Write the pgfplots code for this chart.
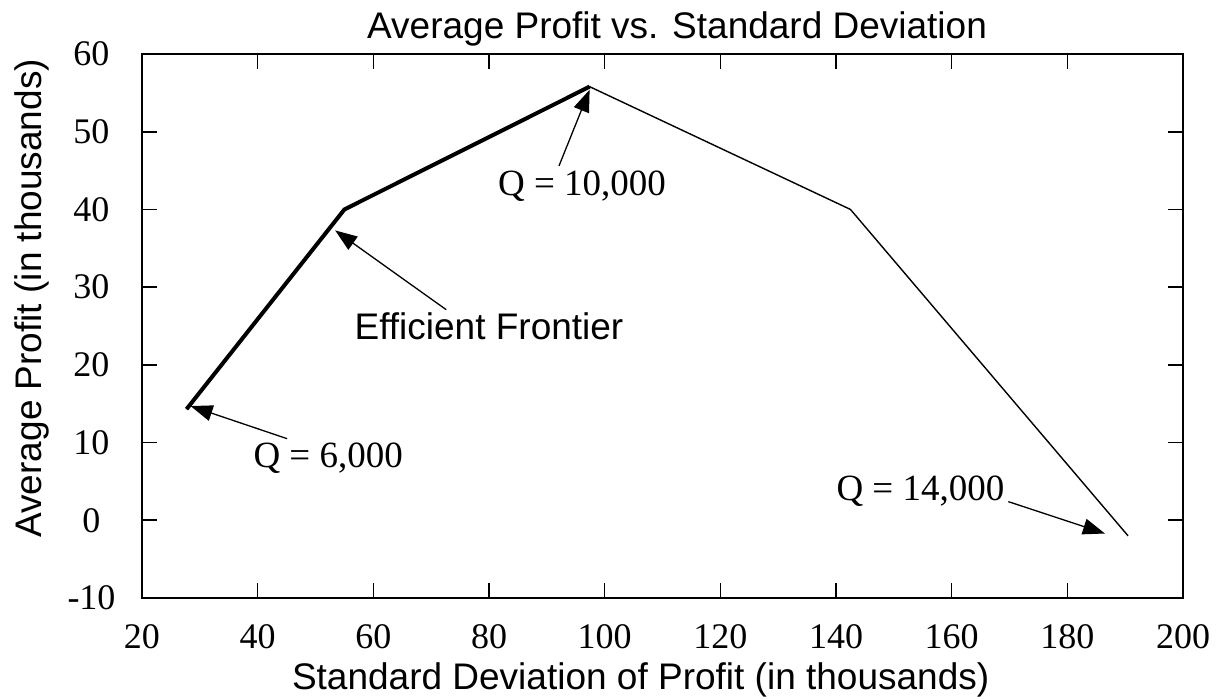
\documentclass[border=0pt]{standalone}
\usepackage{fontspec}
\setmainfont{Liberation Serif}
\setsansfont{Liberation Sans}
\usepackage{pgfplots}
\pgfplotsset{compat=1.18}
\usetikzlibrary{arrows.meta}

\begin{document}
\begin{tikzpicture}
\useasboundingbox (-71pt,-50pt) rectangle (539pt,299pt);
\begin{axis}[
  at={(0pt,0pt)}, anchor=south west,
  scale only axis, width=520.5pt, height=272pt,
  xmin=20, xmax=200, ymin=-10, ymax=60,
  xtick={20,40,...,200}, ytick={-10,0,...,60},
  tick align=inside, major tick length=7.5pt,
  every tick/.style={line width=0.8pt, black},
  axis line style={line width=1pt},
  /pgf/number format/assume math mode=true,
  /pgf/number format/1000 sep={},
  tick label style={font=\fontsize{18}{18}\selectfont},
  xticklabel style={anchor=base, yshift=-25pt, inner sep=0pt},
  yticklabel style={anchor=center, xshift=-25.25pt, inner sep=0pt},
  every axis title shift=0pt,
  title={Average Profit vs. Standard Deviation},
  title style={at={(axis description cs:0.514,1.0276)}, anchor=base, inner sep=0pt, font=\sffamily\fontsize{18.5}{18.5}\selectfont},
  xlabel={Standard Deviation of Profit (in thousands)},
  xlabel style={at={(axis description cs:0.479,-0.169)}, anchor=base, inner sep=0pt, font=\sffamily\fontsize{18.5}{18.5}\selectfont},
  ylabel={Average Profit (in thousands)},
  ylabel style={at={(axis description cs:-0.097,0.551)}, anchor=base, inner sep=0pt, font=\sffamily\fontsize{18.5}{18.5}\selectfont},
]
\addplot[black, line width=0.7pt] coordinates {
  (27.7,14.3) (55,40) (97.4,55.8) (142.5,40) (190.5,-2)
};
\addplot[black, line width=2pt] coordinates {
  (27.7,14.3) (55,40) (97.4,55.8)
};
\node[font=\fontsize{18.5}{18.5}\selectfont, anchor=base, inner sep=0pt] at (axis cs:52.2,6.85) {Q = 6,000};
\draw[-{Triangle[length=11pt,width=8pt]}, line width=0.65pt] (axis cs:45.1,10.5) -- (axis cs:28.4,14.7);
\node[font=\sffamily\fontsize{18.5}{18.5}\selectfont, anchor=base, inner sep=0pt] at (axis cs:80,23.3) {Efficient Frontier};
\draw[-{Triangle[length=11pt,width=8pt]}, line width=0.65pt] (axis cs:72.6,27.1) -- (axis cs:53.4,37.3);
\node[font=\fontsize{18.5}{18.5}\selectfont, anchor=base, inner sep=0pt] at (axis cs:96.1,41.85) {Q = 10,000};
\draw[-{Triangle[length=11pt,width=8pt]}, line width=0.65pt] (axis cs:92.1,45.6) -- (axis cs:97.4,55.4);
\node[font=\fontsize{18.5}{18.5}\selectfont, anchor=base, inner sep=0pt] at (axis cs:154.6,2.6) {Q = 14,000};
\draw[-{Triangle[length=11pt,width=8pt]}, line width=0.65pt] (axis cs:169.8,2.4) -- (axis cs:186.5,-1.7);
\end{axis}
\end{tikzpicture}
\end{document}
